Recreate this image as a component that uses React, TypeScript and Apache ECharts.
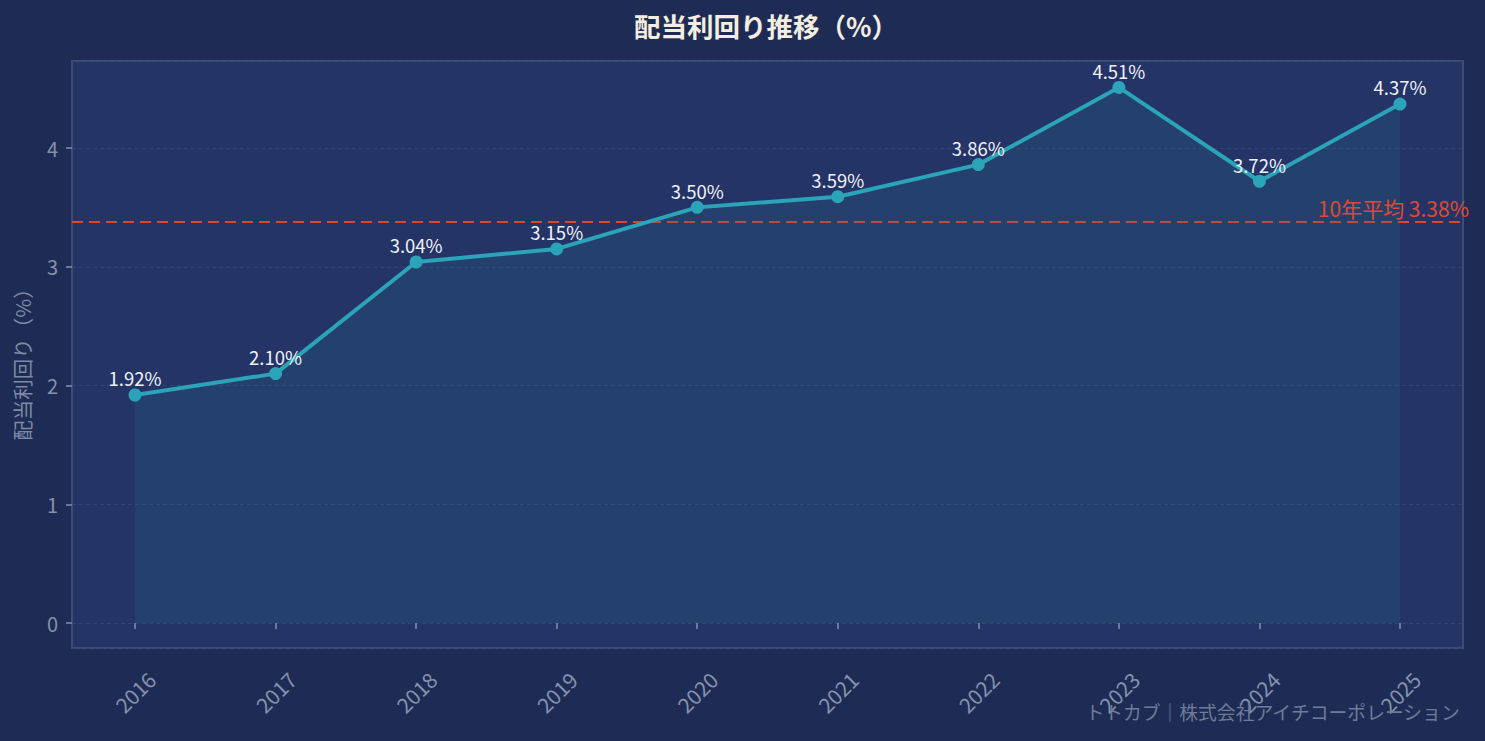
import { useEffect, useRef } from "react";
import * as echarts from "echarts";

const years = ["2016", "2017", "2018", "2019", "2020", "2021", "2022", "2023", "2024", "2025"];
const yields = [1.92, 2.1, 3.04, 3.15, 3.5, 3.59, 3.86, 4.51, 3.72, 4.37];
const yTicks = [0, 1, 2, 3, 4];
const average = 3.38;
const titleText = "配当利回り推移（%）";
const yName = "配当利回り（%）";
const creditText = "トトカブ｜株式会社アイチコーポレーション";

const FONT = "'Noto Sans CJK JP', 'Noto Sans', sans-serif";
const TICK_COLOR = "#8591ad";

export default function App() {
  const ref = useRef<HTMLDivElement | null>(null);

  useEffect(() => {
    document.body.style.margin = "0";
    if (!ref.current) return;
    const chart = echarts.init(ref.current, undefined, { renderer: "svg" });
    // the plot box runs a little past 0 and 4; 0 sits 25px above the bottom edge, 4 sits 87px below the top
    const pxPerUnit = 118.75;
    const yMin = -25 / pxPerUnit;
    const yMax = 4 + 87 / pxPerUnit;
    chart.setOption({
      animation: false,
      backgroundColor: "#1e2c55",
      textStyle: { fontFamily: FONT },
      title: {
        text: titleText,
        left: 761,
        top: 7,
        textAlign: "center",
        textStyle: { color: "#f3eee0", fontSize: 26.5, fontWeight: "bold", fontFamily: FONT },
      },
      grid: [
        { left: 72, right: 22, top: 61, bottom: 93, show: true, backgroundColor: "#243466", borderColor: "#3d4c72", borderWidth: 2 },
        { left: 135, right: 85, top: 61, bottom: 93 },
      ],
      xAxis: [
        { type: "value", gridIndex: 0, min: 0, max: 1, show: false },
        {
          type: "category",
          gridIndex: 1,
          data: years,
          boundaryGap: false,
          axisLine: { show: false },
          axisTick: { show: true, length: 6, lineStyle: { color: TICK_COLOR, width: 1.5 } },
          axisLabel: {
            rotate: 45,
            align: "center",
            verticalAlign: "middle",
            margin: 44,
            color: TICK_COLOR,
            fontSize: 21,
            fontFamily: FONT,
          },
          splitLine: { show: false },
        },
      ],
      yAxis: [
        {
          type: "value",
          gridIndex: 0,
          min: yMin,
          max: yMax,
          splitNumber: 5,
          axisLine: { show: false },
          axisTick: { show: false },
          axisLabel: { show: false },
          splitLine: { show: true, lineStyle: { color: "#34456f", type: [4, 3], width: 1 } },
        },
        {
          type: "value",
          gridIndex: 1,
          min: yMin,
          max: yMax,
          offset: 63,
          name: yName,
          nameLocation: "middle",
          nameGap: 40,
          nameTextStyle: { color: "#7d89a6", fontSize: 20.5, fontFamily: FONT, padding: [0, 10, 0, 0] },
          axisLine: { show: false },
          axisTick: { show: true, length: 6, customValues: yTicks, lineStyle: { color: TICK_COLOR, width: 1.5 } },
          axisLabel: { color: TICK_COLOR, fontSize: 20, margin: 14, customValues: yTicks, fontFamily: FONT },
          splitLine: { show: false },
        },
      ],
      series: [
        {
          name: "avg",
          type: "line",
          xAxisIndex: 0,
          yAxisIndex: 0,
          data: [],
          markLine: {
            silent: true,
            symbol: "none",
            data: [{ yAxis: average }],
            lineStyle: { color: "#d9472f", type: [11, 6], width: 2 },
            label: {
              formatter: `10年平均 ${average.toFixed(2)}%`,
              position: "insideEndTop",
              distance: [-6, 3],
              color: "#e0482f",
              fontSize: 21,
              fontFamily: FONT,
            },
          },
        },
        {
          name: "配当利回り",
          type: "line",
          xAxisIndex: 1,
          yAxisIndex: 1,
          data: yields,
          symbol: "circle",
          symbolSize: 13,
          itemStyle: { color: "#2ba3b9" },
          lineStyle: { color: "#2ba3b9", width: 4 },
          areaStyle: { color: "rgba(42,110,140,0.32)", origin: 0 },
          label: {
            show: true,
            position: "top",
            distance: 1,
            color: "#eef2f8",
            fontSize: 18.5,
            fontFamily: FONT,
            formatter: (p: any) => `${Number(p.value).toFixed(2)}%`,
          },
          z: 5,
        },
      ],
      graphic: [
        {
          type: "text",
          right: 24,
          top: 702,
          style: { text: creditText, fill: "#6f7b99", fontSize: 18.8, fontFamily: FONT },
          z: 10,
        },
      ],
    });
    return () => chart.dispose();
  }, []);

  return <div ref={ref} style={{ width: 1485, height: 741 }} />;
}
